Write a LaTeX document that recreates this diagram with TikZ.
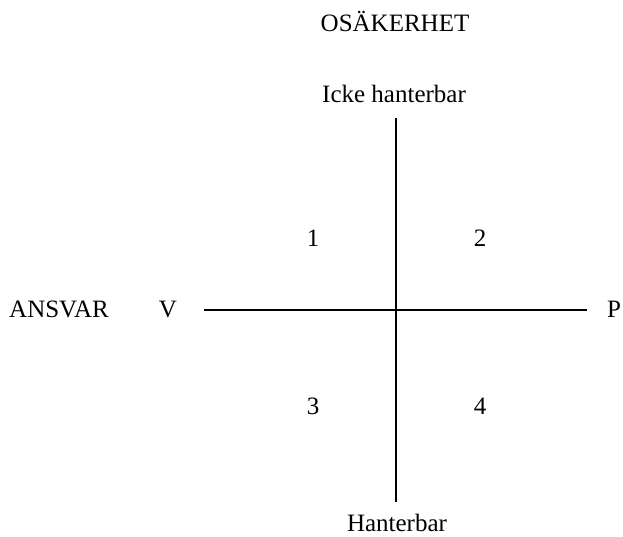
\documentclass[tikz,border=0pt]{standalone}
\usepackage{fontspec}
\setmainfont{Liberation Serif}
\begin{document}
\begin{tikzpicture}[x=1pt,y=1pt,
  lbl/.style={anchor=base,inner sep=0pt,font=\fontsize{25}{30}\selectfont},
  axis/.style={line width=1.8pt}]
\useasboundingbox (0,0) rectangle (623,537);
\node[lbl] (title) at (395,505) {OSÄKERHET};
\node[lbl] (top) at (394,434) {Icke hanterbar};
\node[lbl] (bot) at (397,5) {Hanterbar};
\node[lbl] (ansvar) at (59,219) {ANSVAR};
\node[lbl] (v) at (168,219) {V};
\node[lbl] (p) at (614,219) {P};
\node[lbl] (q1) at (313,290) {1};
\node[lbl] (q2) at (480,290) {2};
\node[lbl] (q3) at (313,122) {3};
\node[lbl] (q4) at (480,122) {4};
\coordinate (hl) at (204,227);
\coordinate (hr) at (587,227);
\coordinate (vt) at (396,419);
\coordinate (vb) at (396,35);
\draw[axis] (hl) -- (hr);
\draw[axis] (vt) -- (vb);
\end{tikzpicture}
\end{document}
